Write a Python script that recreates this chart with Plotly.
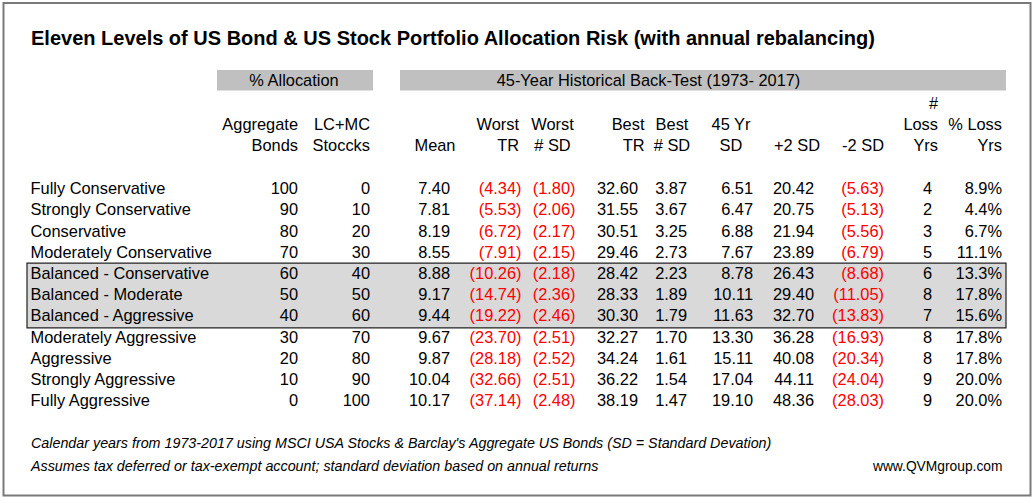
import plotly.graph_objects as go

# ---------------- data ----------------
portfolios = ["Fully Conservative", "Strongly Conservative", "Conservative",
              "Moderately Conservative", "Balanced - Conservative", "Balanced - Moderate",
              "Balanced - Aggressive", "Moderately Aggressive", "Aggressive",
              "Strongly Aggressive", "Fully Aggressive"]
bonds_pct = [100, 90, 80, 70, 60, 50, 40, 30, 20, 10, 0]
stocks_pct = [0, 10, 20, 30, 40, 50, 60, 70, 80, 90, 100]
mean_tr = [7.40, 7.81, 8.19, 8.55, 8.88, 9.17, 9.44, 9.67, 9.87, 10.04, 10.17]
worst_tr = [-4.34, -5.53, -6.72, -7.91, -10.26, -14.74, -19.22, -23.70, -28.18, -32.66, -37.14]
worst_sd = [-1.80, -2.06, -2.17, -2.15, -2.18, -2.36, -2.46, -2.51, -2.52, -2.51, -2.48]
best_tr = [32.60, 31.55, 30.51, 29.46, 28.42, 28.33, 30.30, 32.27, 34.24, 36.22, 38.19]
best_sd = [3.87, 3.67, 3.25, 2.73, 2.23, 1.89, 1.79, 1.70, 1.61, 1.54, 1.47]
sd_45yr = [6.51, 6.47, 6.88, 7.67, 8.78, 10.11, 11.63, 13.30, 15.11, 17.04, 19.10]
plus_2sd = [20.42, 20.75, 21.94, 23.89, 26.43, 29.40, 32.70, 36.28, 40.08, 44.11, 48.36]
minus_2sd = [-5.63, -5.13, -5.56, -6.79, -8.68, -11.05, -13.83, -16.93, -20.34, -24.04, -28.03]
loss_years = [4, 2, 3, 5, 6, 8, 7, 8, 8, 9, 9]
loss_years_pct = [8.9, 4.4, 6.7, 11.1, 13.3, 17.8, 15.6, 17.8, 17.8, 20.0, 20.0]
highlight_rows = ["Balanced - Conservative", "Balanced - Moderate", "Balanced - Aggressive"]

title = "Eleven Levels of US Bond & US Stock Portfolio Allocation Risk (with annual rebalancing)"
group_allocation = "% Allocation"
group_backtest = "45-Year Historical Back-Test (1973- 2017)"
footer_1 = "Calendar years from 1973-2017 using MSCI USA Stocks & Barclay's Aggregate US Bonds (SD = Standard Devation)"
footer_2 = "Assumes tax deferred or tax-exempt account; standard deviation based on annual returns"
footer_url = "www.QVMgroup.com"

# ---------------- layout constants ----------------
W, H = 1035, 497
FONT = "Liberation Sans, Arial, sans-serif"
FS = 16.4
FS_FOOT = 14.3
FS_URL = 13.8
RED = "#ff0000"
BLACK = "#000000"
PAREN = 0.333 * FS   # width reserved for ")" on positive numbers
ROW0, ROW_STEP = 188.3, 21.24
YSHIFT = 0.1 * FS    # baseline correction for 'middle' text
row_y = [ROW0 + i * ROW_STEP for i in range(len(portfolios))]

fig = go.Figure()


def add_text(xs, ys, texts, pos, color=BLACK, size=FS, family=FONT):
    fig.add_trace(go.Scatter(
        x=xs, y=[y + 0.1 * size for y in ys], text=texts, mode="text",
        textposition=pos, textfont=dict(family=family, size=size, color=color),
        hoverinfo="skip", showlegend=False, cliponaxis=False))


def fmt2(v):
    return f"({abs(v):.2f})" if v < 0 else f"{v:.2f}"


def add_num_col(values, right, fmt=fmt2, paren=True):
    xs, ys, ts, cs = [], [], [], []
    for v, y in zip(values, row_y):
        neg = v < 0
        xs.append(right if (neg or not paren) else right - PAREN)
        ys.append(y)
        ts.append(fmt(v))
        cs.append(RED if neg else BLACK)
    fig.add_trace(go.Scatter(
        x=xs, y=[y + YSHIFT for y in ys], text=ts, mode="text",
        textposition="middle left",
        textfont=dict(family=FONT, size=FS, color=cs),
        hoverinfo="skip", showlegend=False, cliponaxis=False))


# highlight box for balanced rows
hi_idx = [portfolios.index(p) for p in highlight_rows]
hy0 = row_y[min(hi_idx)] - ROW_STEP / 2 + 0.5
hy1 = row_y[max(hi_idx)] + ROW_STEP / 2 + 1.5
shapes = [
    dict(type="rect", xref="x", yref="y", x0=27, x1=1006, y0=hy0, y1=hy1,
         fillcolor="#d9d9d9", line=dict(color="#202020", width=1.2), layer="below"),
    dict(type="rect", xref="x", yref="y", x0=217, x1=373, y0=70, y1=90.5,
         fillcolor="#c0c0c0", line=dict(width=0), layer="below"),
    dict(type="rect", xref="x", yref="y", x0=400, x1=1006, y0=70, y1=90.5,
         fillcolor="#c0c0c0", line=dict(width=0), layer="below"),
    dict(type="rect", xref="x", yref="y", x0=3.5, x1=1030.5, y0=3, y1=495.5,
         fillcolor="rgba(0,0,0,0)", line=dict(color="#7a7a7a", width=2)),
]

# title
add_text([31], [37.5], [f"<b>{title}</b>"], "middle right", size=20)
# group bars
add_text([294], [80.5], [group_allocation], "middle center")
add_text([648.5], [80.5], [group_backtest], "middle center")

# column headers
HY1, HY2, HY3 = 103.3, 124.2, 145.5
add_text([298, 298], [HY2, HY3], ["Aggregate", "Bonds"], "middle left")
add_text([370, 370], [HY2, HY3], ["LC+MC", "Stoccks"], "middle left")
add_text([455.5], [HY3], ["Mean"], "middle left")
add_text([519, 519], [HY2, HY3], ["Worst", "TR"], "middle left")
add_text([552.5, 552.5], [HY2, HY3], ["Worst", "# SD"], "middle center")
add_text([644.5, 644.5], [HY2, HY3], ["Best", "TR"], "middle left")
add_text([672, 672], [HY2, HY3], ["Best", "# SD"], "middle center")
add_text([731, 731], [HY2, HY3], ["45 Yr", "SD"], "middle center")
add_text([820], [HY3], ["+2 SD"], "middle left")
add_text([884], [HY3], ["-2 SD"], "middle left")
add_text([938, 938, 938], [HY1, HY2, HY3], ["#", "Loss", "Yrs"], "middle left")
add_text([1002, 1002], [HY2, HY3], ["% Loss", "Yrs"], "middle left")

# body
add_text([30.5] * len(portfolios), row_y, portfolios, "middle right")
add_num_col(bonds_pct, 298, fmt=lambda v: f"{v:d}", paren=False)
add_num_col(stocks_pct, 370, fmt=lambda v: f"{v:d}", paren=False)
add_num_col(mean_tr, 455.5)
add_num_col(worst_tr, 521.5)
add_num_col(worst_sd, 575.5)
add_num_col(best_tr, 643.5)
add_num_col(best_sd, 692.5)
add_num_col(sd_45yr, 758.5)
add_num_col(plus_2sd, 819.5)
add_num_col(minus_2sd, 884)
add_num_col(loss_years, 937.5, fmt=lambda v: f"{v:d}")
add_num_col(loss_years_pct, 1002, fmt=lambda v: f"{v:.1f}%", paren=False)

# footer
add_text([31, 31], [443.3, 466.5], [f"<i>{footer_1}</i>", f"<i>{footer_2}</i>"],
         "middle right", size=FS_FOOT)
add_text([1002.5], [466.5], [footer_url], "middle left", size=FS_URL)

fig.update_layout(
    width=W, height=H, margin=dict(l=0, r=0, t=0, b=0),
    paper_bgcolor="white", plot_bgcolor="white",
    xaxis=dict(range=[0, W], visible=False, fixedrange=True),
    yaxis=dict(range=[H, 0], visible=False, fixedrange=True),
    shapes=shapes, showlegend=False,
)
fig.write_html(
    "out.html",
    config={"displayModeBar": False},
    post_script="document.body.style.margin='0';document.body.style.overflow='hidden';",
)
